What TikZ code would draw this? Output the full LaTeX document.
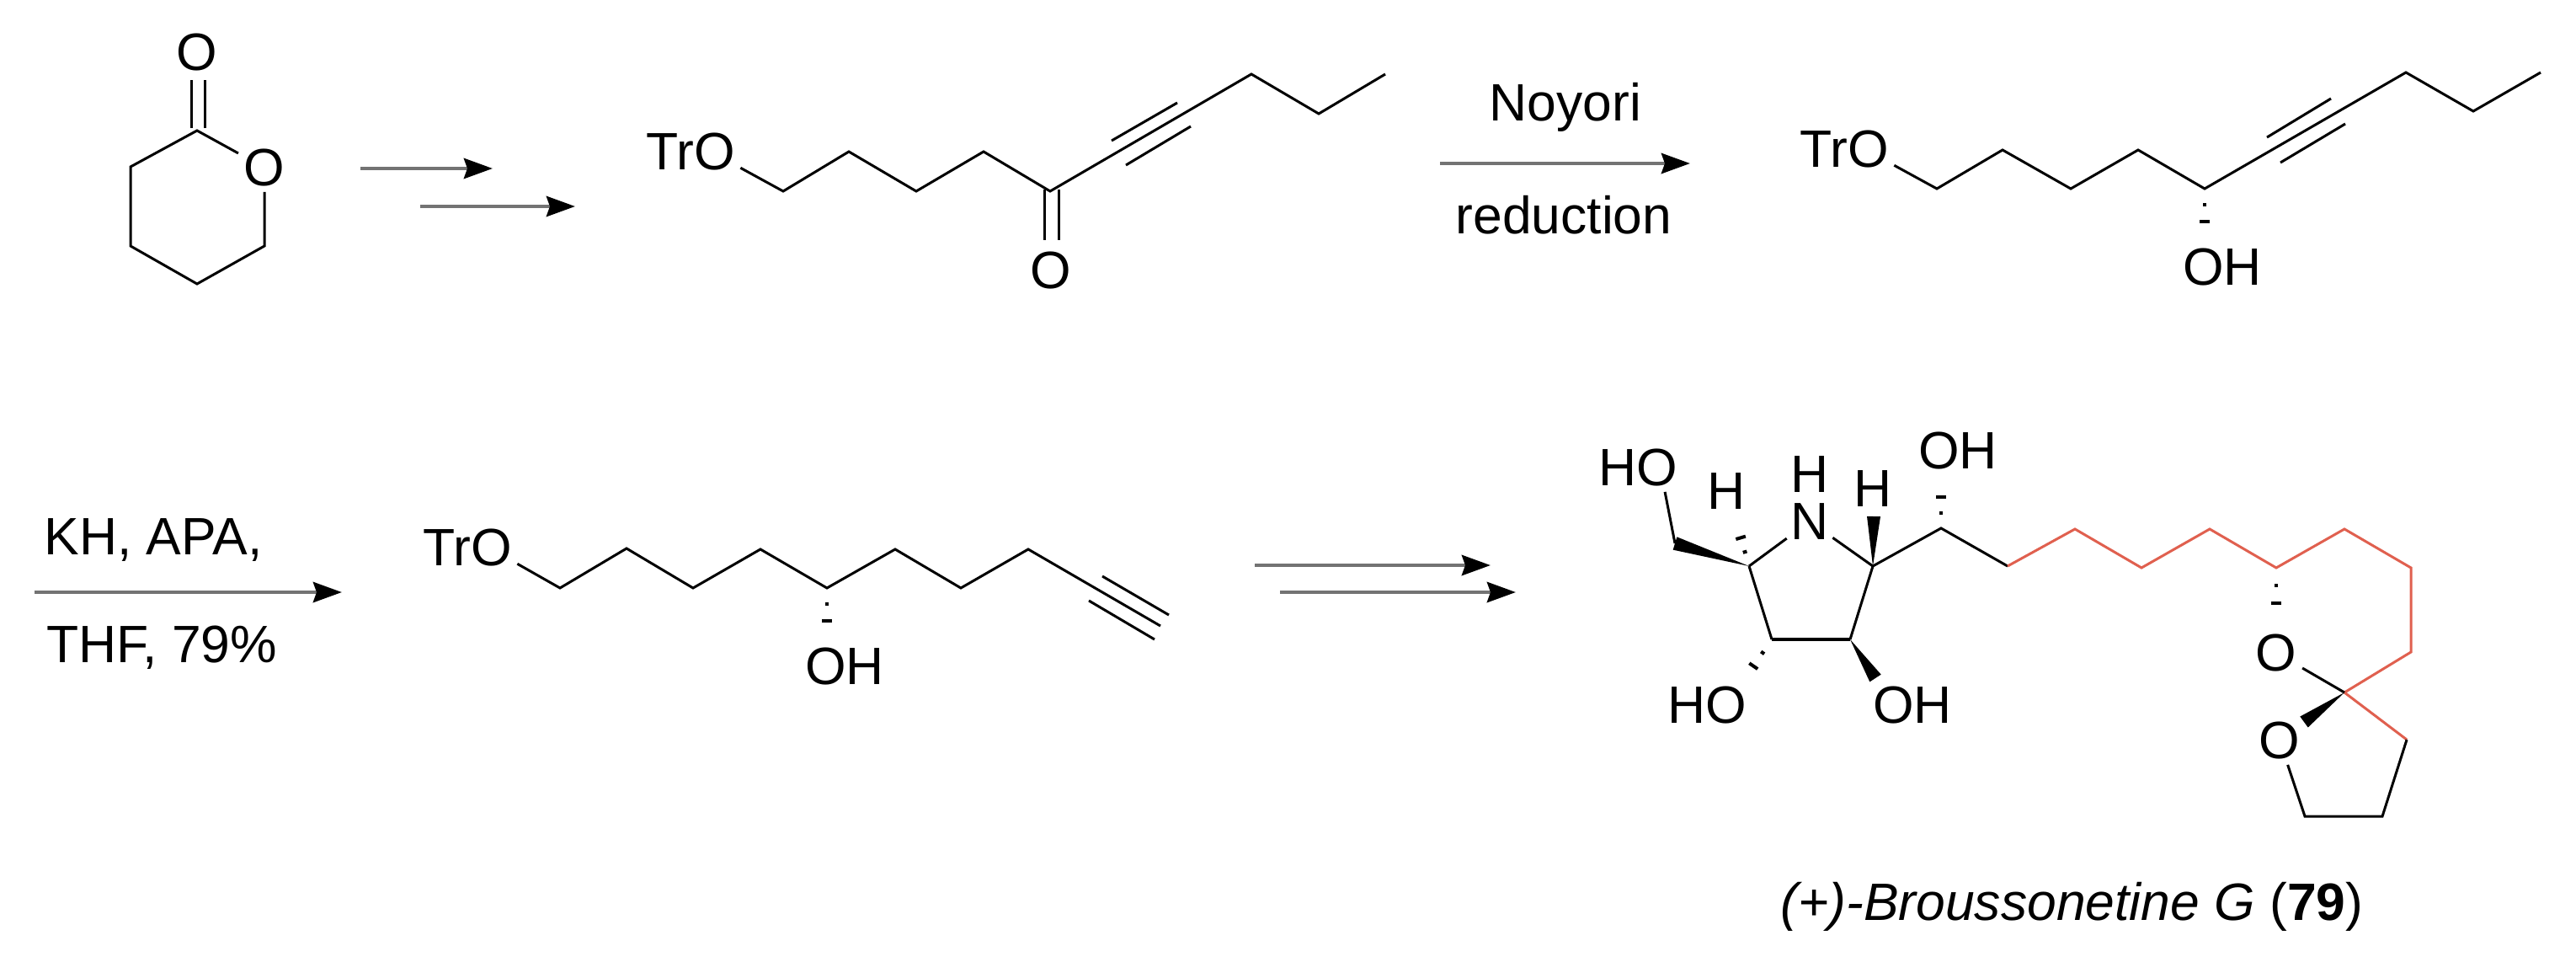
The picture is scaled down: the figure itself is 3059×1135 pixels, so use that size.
\documentclass[tikz,border=0pt]{standalone}
\usepackage{fontspec}
\setmainfont{Liberation Sans}
\usetikzlibrary{arrows.meta,calc}

\definecolor{chainred}{HTML}{E0604F}
\tikzset{
  atom/.style={inner sep=1.5pt,font=\fontsize{15.6}{18}\selectfont},
  bond/.style={line width=.75pt},
  redbond/.style={bond,draw=chainred},
  hashbit/.style={line width=1pt},
  rxn/.style={line width=1.2pt,draw=black!55,-{Stealth[length=8.5pt,width=6pt,inset=1pt,color=black]}},
}
\newcommand{\hashbond}[2]{
  \foreach \f/\w in {.33/.6pt,.66/1.5pt,1/2.3pt}{
    \draw[hashbit] ($(#1)!\f!(#2)!\w!90:(#2)$) -- ($(#1)!\f!(#2)!\w!-90:(#2)$);
  }
}
\newcommand{\wedgebond}[2]{
  \fill ($(#1)!2pt!90:(#2)$) -- (#2) -- ($(#1)!2pt!-90:(#2)$) -- cycle;
}

\begin{document}
\begin{tikzpicture}[x=.25pt,y=-.25pt]
  \useasboundingbox (0,0) rectangle (3059,1135);

  % lactone
  \node[atom] (lacO1) at (234,62) {O};
  \node[atom] (lacO2) at (314,199) {O};
  \coordinate (lac1) at (234,155);
  \coordinate (lac2) at (155,198);
  \coordinate (lac3) at (155,292);
  \coordinate (lac4) at (234,337);
  \coordinate (lac5) at (314,292);
  \draw[bond] (lacO2) -- (lac1) -- (lac2) -- (lac3) -- (lac4) -- (lac5) -- (lacO2);
  \coordinate (lacA) at (227,152);
  \coordinate (lacB) at (227,95);
  \coordinate (lacC) at (243,152);
  \coordinate (lacD) at (243,95);
  \draw[bond] (lacA) -- (lacB);
  \draw[bond] (lacC) -- (lacD);

  \coordinate (arr1a) at (428,200);
  \coordinate (arr1b) at (585,200);
  \coordinate (arr2a) at (499,245);
  \coordinate (arr2b) at (683,245);
  \draw[rxn] (arr1a) -- (arr1b);
  \draw[rxn] (arr2a) -- (arr2b);

  % ynone
  \node[atom] (troA) at (820,180) {TrO};
  \node[atom] (ketO) at (1248,321) {O};
  \coordinate (a1) at (930,227);
  \coordinate (a2) at (1008,180);
  \coordinate (a3) at (1088,227);
  \coordinate (a4) at (1168,180);
  \coordinate (a5) at (1247,227);
  \coordinate (a6) at (1486,88);
  \coordinate (a7) at (1566,135);
  \coordinate (a8) at (1645,88);
  \draw[bond] (troA.-18) -- (a1) -- (a2) -- (a3) -- (a4) -- (a5) -- (a6) -- (a7) -- (a8);
  \coordinate (ta1) at (1320,167);
  \coordinate (ta2) at (1398,122);
  \coordinate (ta3) at (1337,196);
  \coordinate (ta4) at (1414,150);
  \draw[bond] (ta1) -- (ta2);
  \draw[bond] (ta3) -- (ta4);
  \coordinate (ka1) at (1240,225);
  \coordinate (ka2) at (1240,285);
  \coordinate (ka3) at (1257,225);
  \coordinate (ka4) at (1257,285);
  \draw[bond] (ka1) -- (ka2);
  \draw[bond] (ka3) -- (ka4);

  % Noyori step
  \node[atom,anchor=base] (noyori) at (1859,143) {Noyori};
  \node[atom,anchor=base] (redn) at (1857,277) {reduction};
  \coordinate (arr3a) at (1710,194);
  \coordinate (arr3b) at (2007,194);
  \draw[rxn] (arr3a) -- (arr3b);

  % propargylic alcohol
  \node[atom] (troB) at (2190,177) {TrO};
  \node[atom] (ohB) at (2639,317) {OH};
  \coordinate (b1) at (2300,224);
  \coordinate (b2) at (2378,178);
  \coordinate (b3) at (2459,224);
  \coordinate (b4) at (2539,178);
  \coordinate (b5) at (2618,224);
  \coordinate (b6) at (2857,86);
  \coordinate (b7) at (2937,132);
  \coordinate (b8) at (3017,86);
  \draw[bond] (troB.-18) -- (b1) -- (b2) -- (b3) -- (b4) -- (b5) -- (b6) -- (b7) -- (b8);
  \coordinate (tb1) at (2692,163);
  \coordinate (tb2) at (2768,117);
  \coordinate (tb3) at (2708,193);
  \coordinate (tb4) at (2785,147);
  \draw[bond] (tb1) -- (tb2);
  \draw[bond] (tb3) -- (tb4);
  \coordinate (hb) at (2618,283);
  \hashbond{b5}{hb}

  % KH step
  \node[atom,anchor=base] (kh) at (182,658) {KH, APA,};
  \node[atom,anchor=base] (thf) at (192,786) {THF, 79\%};
  \coordinate (arr4a) at (41,703);
  \coordinate (arr4b) at (406,703);
  \draw[rxn] (arr4a) -- (arr4b);

  % terminal alkyne
  \node[atom] (troC) at (555,650) {TrO};
  \node[atom] (ohC) at (1003,791) {OH};
  \coordinate (c1) at (665,698);
  \coordinate (c2) at (744,651);
  \coordinate (c3) at (823,698);
  \coordinate (c4) at (903,652);
  \coordinate (c5) at (982,698);
  \coordinate (c6) at (1063,652);
  \coordinate (c7) at (1141,698);
  \coordinate (c8) at (1221,652);
  \coordinate (c9) at (1378,743);
  \draw[bond] (troC.-18) -- (c1) -- (c2) -- (c3) -- (c4) -- (c5) -- (c6) -- (c7) -- (c8) -- (c9);
  \coordinate (tc1) at (1309,684);
  \coordinate (tc2) at (1388,730);
  \coordinate (tc3) at (1293,713);
  \coordinate (tc4) at (1371,759);
  \draw[bond] (tc1) -- (tc2);
  \draw[bond] (tc3) -- (tc4);
  \coordinate (hc) at (982,757);
  \hashbond{c5}{hc}

  \coordinate (arr5a) at (1490,671);
  \coordinate (arr5b) at (1770,671);
  \coordinate (arr6a) at (1520,703);
  \coordinate (arr6b) at (1800,703);
  \draw[rxn] (arr5a) -- (arr5b);
  \draw[rxn] (arr6a) -- (arr6b);

  % broussonetine
  \node[atom] (hoA) at (1945,555) {HO};
  \node[atom] (hL) at (2050,583) {H};
  \node[atom,inner sep=0pt] (hN) at (2149,563) {H};
  \node[atom,inner sep=1pt] (nN) at (2149,619) {N};
  \node[atom] (hR) at (2224,580) {H};
  \node[atom] (ohD) at (2325,535) {OH};
  \node[atom] (hoE) at (2027,837) {HO};
  \node[atom] (ohE) at (2271,837) {OH};
  \coordinate (r1) at (2077,672);
  \coordinate (r2) at (2224,672);
  \coordinate (r3) at (2197,759);
  \coordinate (r4) at (2104,759);
  \coordinate (ch2) at (1989,645);
  \draw[bond] (r1) -- (nN) -- (r2) -- (r3);
  \draw[bond] (r4) -- (r1);
  \draw[line width=1pt] (r3) -- (r4);
  \draw[bond] (hoA.-42) -- (ch2);
  \wedgebond{ch2}{r1}
  \coordinate (wR) at (2225,613);
  \wedgebond{wR}{r2}
  \coordinate (wO) at (2227,805);
  \wedgebond{wO}{r3}
  \coordinate (hL1) at (2062,621);
  \hashbond{r1}{hL1}
  \coordinate (hE1) at (2071,807);
  \hashbond{r4}{hE1}

  \coordinate (d1) at (2305,627);
  \coordinate (d2) at (2384,672);
  \coordinate (d3) at (2464,628);
  \coordinate (d4) at (2543,674);
  \coordinate (d5) at (2624,628);
  \coordinate (d6) at (2703,674);
  \coordinate (d7) at (2784,628);
  \coordinate (d8) at (2863,674);
  \coordinate (d9) at (2863,774);
  \coordinate (sp) at (2784,822);
  \coordinate (d10) at (2858,878);
  \coordinate (d11) at (2829,969);
  \coordinate (d12) at (2737,969);
  \draw[bond] (r2) -- (d1) -- (d2);
  \draw[redbond] (d2) -- (d3) -- (d4) -- (d5) -- (d6) -- (d7) -- (d8) -- (d9) -- (sp) -- (d10);
  \coordinate (hD) at (2305,571);
  \hashbond{d1}{hD}
  \coordinate (hS) at (2703,737);
  \hashbond{d6}{hS}
  \node[atom] (spO1) at (2703,775) {O};
  \node[atom] (spO2) at (2707,879) {O};
  \draw[bond] (spO1) -- (sp);
  \coordinate (wS) at (2736,857);
  \wedgebond{wS}{sp}
  \draw[bond] (d10) -- (d11) -- (d12) -- (spO2);

  \node[atom,anchor=base east] (name) at (2813,1092) {\textit{(+)-Broussonetine G} (\textbf{79})};
\end{tikzpicture}
\end{document}
